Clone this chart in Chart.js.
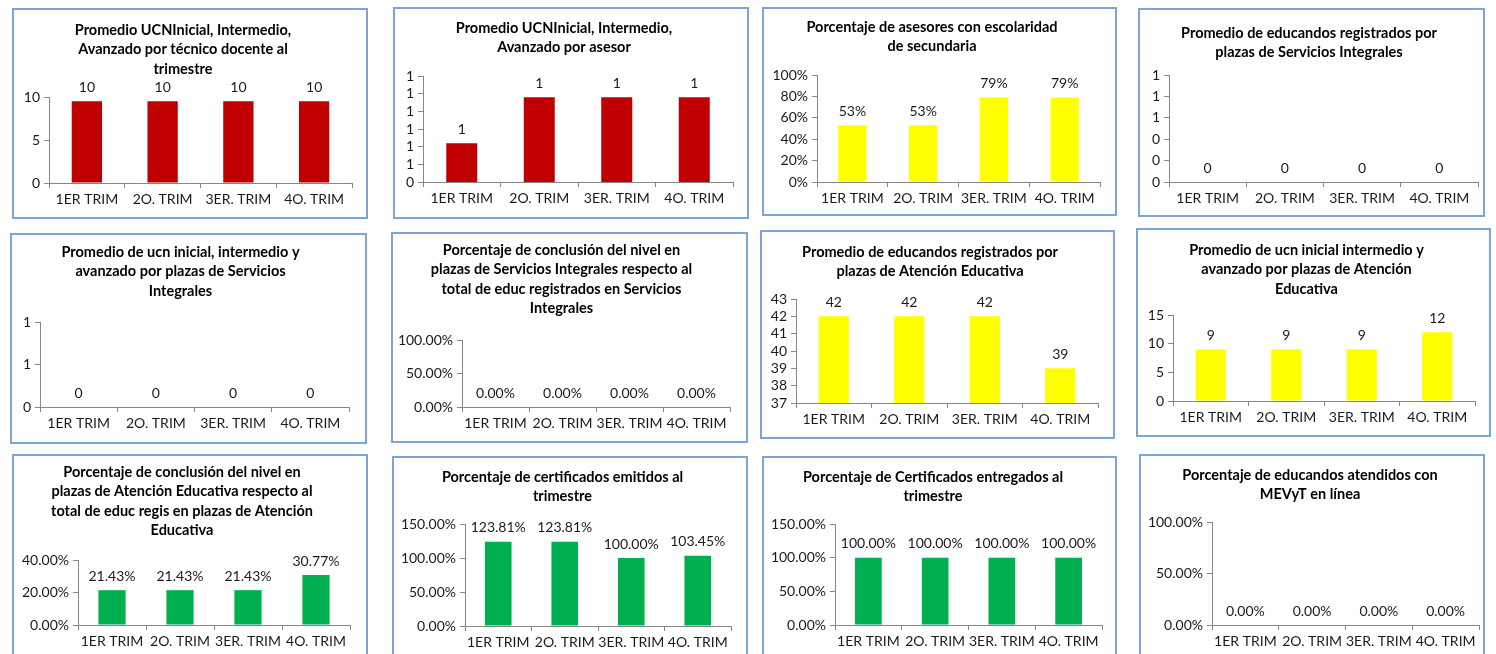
<!DOCTYPE html>
<html>
<head>
<meta charset="utf-8">
<script src="https://cdn.jsdelivr.net/npm/chart.js@4.4.1/dist/chart.umd.min.js"></script>
<style>
html, body { margin: 0; padding: 0; background: #fff; width: 1496px; height: 654px; overflow: hidden; }
.panel { position: absolute; border: 2px solid #7BA5D9; box-sizing: border-box; background: #fff; }
.panel div { position: absolute; left: 0; top: 0; }
</style>
</head>
<body>
<script>
// trimestres
var categories = ['1ER TRIM', '2O. TRIM', '3ER. TRIM', '4O. TRIM'];

// valores por grafica
var ucnTecnico = [9.5, 9.5, 9.5, 9.5];
var ucnAsesor = [0.62, 0.88, 0.88, 0.88];
var asesoresSecundaria = [53, 53, 79, 79];
var educandosSI = [0, 0, 0, 0];
var ucnSI = [0, 0, 0, 0];
var conclusionSI = [0, 0, 0, 0];
var educandosAE = [42, 42, 42, 39];
var ucnAE = [9, 9, 9, 12];
var conclusionAE = [21.43, 21.43, 21.43, 30.77];
var certEmitidos = [123.81, 123.81, 100, 103.45];
var certEntregados = [100, 100, 100, 100];
var mevytLinea = [0, 0, 0, 0];

// eje y: [min, max, paso]
var yTicksTecnico = [0, 10, 5];
var yTicksAsesor = [0.4, 1.0, 0.1];
var yTicksSecundaria = [0, 100, 20];
var yTicksEducSI = [0, 1, 0.2];
var yTicksUcnSI = [0, 1, 0.5];
var yTicksConclSI = [0, 100, 50];
var yTicksEducAE = [37, 43, 1];
var yTicksUcnAE = [0, 15, 5];
var yTicksConclAE = [0, 40, 20];
var yTicksEmitidos = [0, 150, 50];
var yTicksEntregados = [0, 150, 50];
var yTicksMevyt = [0, 100, 50];

var RED = '#C00000', YELLOW = '#FFFF00', GREEN = '#00B050';
var AXIS = '#868686', TEXT = '#1a1a1a';
var TITLE_SIZE = 14.5;
var LINE_H = 19.6;

var fmt = {
    int: function(v) { return String(Math.round(Math.round(v * 1000) / 1000)); },
    pct0: function(v) { return Math.round(v) + '%'; },
    pct2: function(v) { return v.toFixed(2) + '%'; }
};

// panel [x1,y1,x2,y2], plot [left,top,right,bottom], first title line centre y
var charts = [
    { title: ['Promedio UCNInicial, Intermedio,', 'Avanzado por técnico docente al', 'trimestre'], data: ucnTecnico, y: yTicksTecnico, color: RED, f: 'int',
      panel: [12, 8, 367, 218], plot: [49, 97, 352, 183], ty: 30 },
    { title: ['Promedio UCNInicial, Intermedio,', 'Avanzado por asesor'], data: ucnAsesor, y: yTicksAsesor, color: RED, f: 'int',
      panel: [393, 7, 748, 218], plot: [423, 76, 733, 182], ty: 28 },
    { title: ['Porcentaje de asesores con escolaridad', 'de secundaria'], data: asesoresSecundaria, y: yTicksSecundaria, color: YELLOW, f: 'pct0',
      panel: [762, 7, 1116, 215], plot: [817, 75, 1100, 182], ty: 27 },
    { title: ['Promedio de educandos registrados por', 'plazas de Servicios Integrales'], data: educandosSI, y: yTicksEducSI, color: YELLOW, f: 'int',
      panel: [1138, 8, 1484, 216], plot: [1169, 75, 1478, 182], ty: 33 },
    { title: ['Promedio de ucn inicial, intermedio y', 'avanzado por plazas de Servicios', 'Integrales'], data: ucnSI, y: yTicksUcnSI, color: YELLOW, f: 'int',
      panel: [10, 233, 366, 443], plot: [40, 322, 349, 407], ty: 252 },
    { title: ['Porcentaje de conclusión del nivel en', 'plazas de Servicios Integrales respecto al', 'total de educ registrados en Servicios', 'Integrales'], data: conclusionSI, y: yTicksConclSI, color: YELLOW, f: 'pct2',
      panel: [391, 232, 747, 442], plot: [462, 340, 730, 407], ty: 250 },
    { title: ['Promedio de educandos registrados por', 'plazas de Atención Educativa'], data: educandosAE, y: yTicksEducAE, color: YELLOW, f: 'int',
      panel: [760, 230, 1114, 438], plot: [796, 299, 1098, 403], ty: 252 },
    { title: ['Promedio de ucn inicial intermedio y', 'avanzado por plazas de Atención', 'Educativa'], data: ucnAE, y: yTicksUcnAE, color: YELLOW, f: 'int',
      panel: [1136, 228, 1490, 436], plot: [1173, 315, 1475, 401], ty: 250 },
    { title: ['Porcentaje de conclusión del nivel en', 'plazas de Atención Educativa respecto al', 'total de educ regis en plazas de Atención', 'Educativa'], data: conclusionAE, y: yTicksConclAE, color: GREEN, f: 'pct2',
      panel: [12, 454, 367, 664], plot: [78, 560, 350, 625], ty: 472 },
    { title: ['Porcentaje de certificados emitidos al', 'trimestre'], data: certEmitidos, y: yTicksEmitidos, color: GREEN, f: 'pct2',
      panel: [392, 456, 747, 666], plot: [465, 524, 731, 626], ty: 477 },
    { title: ['Porcentaje de Certificados entregados al', 'trimestre'], data: certEntregados, y: yTicksEntregados, color: GREEN, f: 'pct2',
      panel: [762, 456, 1116, 666], plot: [835, 524, 1102, 625], ty: 477 },
    { title: ['Porcentaje de educandos atendidos con', 'MEVyT en línea'], data: mevytLinea, y: yTicksMevyt, color: GREEN, f: 'pct2',
      panel: [1139, 454, 1484, 664], plot: [1212, 522, 1479, 625], ty: 475 }
];

// etiquetas de valor encima de cada barra
var valueLabels = {
    id: 'valueLabels',
    afterDatasetsDraw: function(chart, args, opts) {
        var ctx = chart.ctx;
        ctx.save();
        ctx.font = '14px Lato';
        ctx.fillStyle = TEXT;
        ctx.textAlign = 'center';
        ctx.textBaseline = 'middle';
        chart.data.datasets.forEach(function(ds, i) {
            chart.getDatasetMeta(i).data.forEach(function(bar, j) {
                ctx.fillText(opts.format(ds.data[j]), bar.x, bar.y - 14);
            });
        });
        ctx.restore();
    }
};

charts.forEach(function(c) {
    var p = c.panel, a = c.plot;
    var panel = document.createElement('div');
    panel.className = 'panel';
    panel.style.left = p[0] + 'px';
    panel.style.top = p[1] + 'px';
    panel.style.width = (p[2] - p[0] + 1) + 'px';
    panel.style.height = (p[3] - p[1] + 1) + 'px';
    var box = document.createElement('div');
    var cl = p[0] + 2, ct = p[1] + 2, cr = p[2] - 1, cb = p[3] - 1;
    box.style.width = (cr - cl) + 'px';
    box.style.height = (cb - ct) + 'px';
    var canvas = document.createElement('canvas');
    box.appendChild(canvas);
    panel.appendChild(box);
    document.body.appendChild(panel);

    var padRight = Math.max(0, cr - a[2]);
    var yWidth = a[0] - cl;
    var xHeight = 30;
    var padBottom = cb - a[3] - xHeight;
    var tTop = c.ty - ct - LINE_H / 2;
    var tBottom = a[1] - ct - tTop - c.title.length * LINE_H;
    var format = fmt[c.f];

    new Chart(canvas, {
        type: 'bar',
        data: {
            labels: categories,
            datasets: [{
                data: c.data,
                backgroundColor: c.color,
                borderWidth: 0,
                categoryPercentage: 1,
                barPercentage: 0.4
            }]
        },
        options: {
            responsive: true,
            maintainAspectRatio: false,
            animation: false,
            layout: { padding: { left: 0, right: padRight, top: 0, bottom: padBottom } },
            plugins: {
                legend: { display: false },
                tooltip: { enabled: false },
                title: {
                    display: true,
                    text: c.title,
                    color: '#000',
                    font: { family: 'Lato', size: TITLE_SIZE, weight: 'bold', lineHeight: LINE_H / TITLE_SIZE },
                    padding: { top: tTop, bottom: tBottom }
                },
                valueLabels: { format: format }
            },
            scales: {
                x: {
                    grid: { display: true, drawOnChartArea: false, drawTicks: true, tickLength: 5, color: AXIS, offset: true },
                    border: { display: true, color: AXIS },
                    ticks: { color: TEXT, font: { family: 'Lato', size: 14 }, padding: 3, maxRotation: 0, autoSkip: false },
                    afterFit: function(s) { s.height = xHeight; }
                },
                y: {
                    min: c.y[0],
                    max: c.y[1],
                    grid: { display: true, drawOnChartArea: false, drawTicks: true, tickLength: 5, color: AXIS },
                    border: { display: true, color: AXIS },
                    ticks: {
                        stepSize: c.y[2],
                        autoSkip: false,
                        color: TEXT,
                        font: { family: 'Lato', size: 14 },
                        padding: 4,
                        callback: function(v) { return format(v); }
                    },
                    afterFit: function(s) { s.width = yWidth; }
                }
            }
        },
        plugins: [valueLabels]
    });
});
</script>
</body>
</html>
